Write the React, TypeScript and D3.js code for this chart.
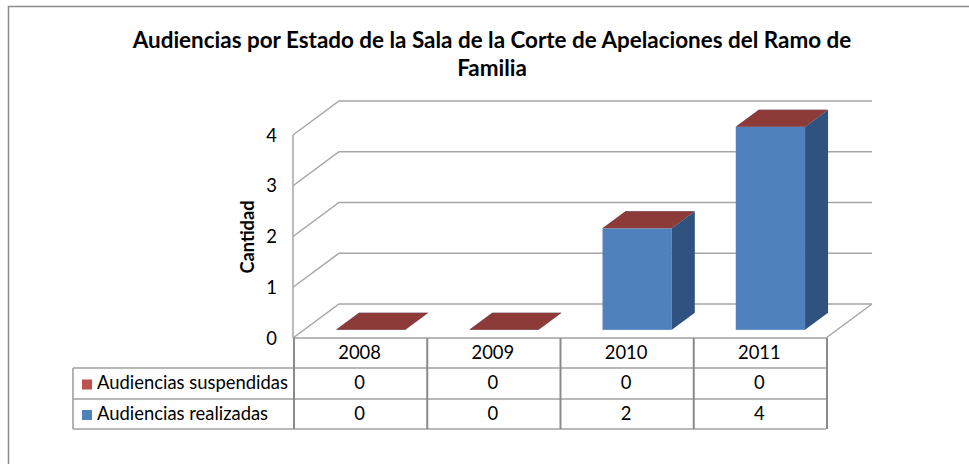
import { useEffect, useRef } from "react";
import * as d3 from "d3";

const categories = ["2008", "2009", "2010", "2011"];
const suspendidas = [0, 0, 0, 0];
const realizadas = [0, 0, 2, 4];
const yTicks = [0, 1, 2, 3, 4];
const titleLines = [
  "Audiencias por Estado de la Sala de la Corte de Apelaciones del Ramo de",
  "Familia",
];
const yTitle = "Cantidad";
const seriesNames = ["Audiencias suspendidas", "Audiencias realizadas"];

const W = 969;
const H = 464;
const FONT = "Lato, 'Open Sans', sans-serif";

export default function App() {
  const ref = useRef<SVGSVGElement>(null);

  useEffect(() => {
    const svg = d3.select(ref.current);
    svg.selectAll("*").remove();

    // outer chart frame (cropped on the right and bottom)
    svg.append("rect")
      .attr("x", 8.5).attr("y", 6.5)
      .attr("width", W).attr("height", H)
      .attr("fill", "#fff")
      .attr("stroke", "#8c8c8c")
      .attr("stroke-width", 1.5);

    const x = d3.scaleBand().domain(categories).range([293, 826]);
    const y = d3.scaleLinear().domain([0, 4]).range([338, 135]);
    const dx = 46, dy = -34; // depth of the 3d box
    const f1 = 0.24, f2 = 0.74; // bar depth position
    const barW = x.bandwidth() * 0.52;
    const backRight = 826 + dx;

    // walls / gridlines
    const grid = svg.append("g").attr("fill", "none").attr("stroke", "#a6a6a6").attr("stroke-width", 1.5);
    yTicks.forEach((t) => {
      grid.append("path")
        .attr("d", `M293,${y(t)} L${293 + dx},${y(t) + dy} L${backRight},${y(t) + dy}`);
    });
    grid.append("path").attr("d", `M826,${y(0)} L${backRight},${y(0) + dy}`);
    grid.append("path").attr("d", `M293,${y(4)} L293,${y(0)}`);

    // tick labels
    svg.append("g")
      .selectAll("text")
      .data(yTicks)
      .join("text")
      .attr("class", "body")
      .attr("x", 277)
      .attr("y", (d) => y(d) + 2)
      .attr("text-anchor", "end")
      .attr("dominant-baseline", "middle")
      .attr("font-family", FONT)
      .attr("font-size", 15)
      .attr("fill", "#000")
      .text((d) => d);

    const yt = svg.append("text")
      .attr("transform", "translate(249,237) rotate(-90)")
      .attr("text-anchor", "middle")
      .attr("dominant-baseline", "middle")
      .attr("font-family", FONT)
      .attr("font-weight", "bold")
      .attr("font-size", 15)
      .text(yTitle);

    // bars
    const series = [
      { values: realizadas, front: "#4f81bd", side: "#30527f", top: "#6f97cc" },
      { values: suspendidas, front: "#c0504d", side: "#8c3836", top: "#8d3b39" },
    ];
    const ddx = dx * (f2 - f1), ddy = dy * (f2 - f1);
    const bars = svg.append("g");
    categories.forEach((c, i) => {
      const x0 = (x(c) as number) + (x.bandwidth() - barW) / 2 + dx * f1;
      let cum = 0;
      series.forEach((s) => {
        const v = s.values[i];
        const yb = y(cum) + dy * f1;
        const ytp = y(cum + v) + dy * f1;
        cum += v;
        if (v > 0) {
          bars.append("rect")
            .attr("x", x0).attr("y", ytp)
            .attr("width", barW).attr("height", yb - ytp)
            .attr("fill", s.front);
          bars.append("path")
            .attr("d", `M${x0 + barW},${yb} L${x0 + barW},${ytp} L${x0 + barW + ddx},${ytp + ddy} L${x0 + barW + ddx},${yb + ddy}Z`)
            .attr("fill", s.side);
        }
        bars.append("path")
          .attr("d", `M${x0},${ytp} L${x0 + barW},${ytp} L${x0 + barW + ddx},${ytp + ddy} L${x0 + ddx},${ytp + ddy}Z`)
          .attr("fill", s.top);
      });
    });

    // data table
    const rowTop = y(0);
    const rows = [368, 399, 429];
    const tableLeft = 73;
    const tbl = svg.append("g").attr("fill", "none");
    tbl.append("line").attr("x1", 293).attr("x2", 826).attr("y1", rowTop).attr("y2", rowTop)
      .attr("stroke", "#a0a0a0").attr("stroke-width", 1.5);
    rows.forEach((r) => {
      tbl.append("line").attr("x1", tableLeft).attr("x2", 826).attr("y1", r).attr("y2", r)
        .attr("stroke", "#a0a0a0").attr("stroke-width", 1.5);
    });
    tbl.append("line").attr("x1", tableLeft).attr("x2", tableLeft).attr("y1", rows[0]).attr("y2", rows[2])
      .attr("stroke", "#999").attr("stroke-width", 1.5);
    [...categories.map((c) => x(c) as number), 826].forEach((bx) => {
      tbl.append("line").attr("x1", bx + 1).attr("x2", bx + 1).attr("y1", rowTop).attr("y2", rows[2])
        .attr("stroke", "#8a8a8a").attr("stroke-width", 2);
    });

    const cellText = (g: any) => g
      .attr("class", "body")
      .attr("text-anchor", "middle")
      .attr("dominant-baseline", "middle")
      .attr("font-family", FONT)
      .attr("font-size", 15)
      .attr("fill", "#000");

    svg.append("g").selectAll("text").data(categories).join("text")
      .attr("x", (d) => (x(d) as number) + x.bandwidth() / 2)
      .attr("y", (rowTop + rows[0]) / 2 + 1)
      .call(cellText)
      .text((d) => d);

    const tableSeries = [
      { name: seriesNames[0], values: suspendidas, color: "#c0504d" },
      { name: seriesNames[1], values: realizadas, color: "#4f81bd" },
    ];
    tableSeries.forEach((s, k) => {
      const cy = (rows[k] + rows[k + 1]) / 2 + 1;
      svg.append("rect")
        .attr("x", 82).attr("y", cy - 5)
        .attr("width", 10).attr("height", 10)
        .attr("fill", s.color);
      svg.append("text")
        .attr("x", 97).attr("y", cy)
        .attr("class", k === 0 ? "body legtext" : "body")
        .attr("dominant-baseline", "middle")
        .attr("font-family", FONT)
        .attr("font-size", 15)
        .text(s.name);
      svg.append("g").selectAll("text").data(s.values).join("text")
        .attr("x", (_d, i) => (x(categories[i]) as number) + x.bandwidth() / 2)
        .attr("y", cy)
        .call(cellText)
        .text((d) => d);
    });

    // title
    const title = svg.append("g");
    titleLines.forEach((t, i) => {
      title.append("text")
        .attr("x", 492)
        .attr("y", 42 + i * 28)
        .attr("text-anchor", "middle")
        .attr("dominant-baseline", "middle")
        .attr("font-family", FONT)
        .attr("font-weight", "bold")
        .attr("font-size", 18)
        .text(t);
    });
    // fit text widths to the original
    const first = title.select("text").node() as SVGTextElement;
    const fs = 18 * 719 / first.getComputedTextLength();
    title.selectAll("text").attr("font-size", fs);

    const leg = svg.select(".legtext").node() as SVGTextElement;
    const bodyFs = 15 * 191 / leg.getComputedTextLength();
    svg.selectAll(".body").attr("font-size", bodyFs);

    const ytn = yt.node() as SVGTextElement;
    yt.attr("font-size", 15 * 73 / ytn.getComputedTextLength());
  }, []);

  return (
    <svg
      ref={ref}
      width={W}
      height={H}
      style={{ position: "fixed", left: 0, top: 0, background: "#fff" }}
    />
  );
}
